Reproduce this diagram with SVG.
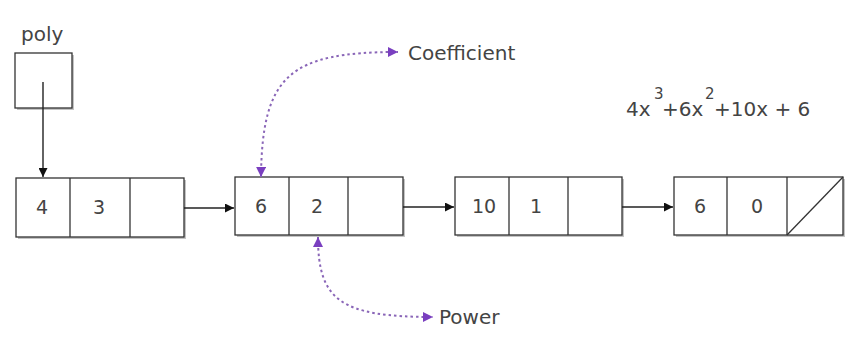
<svg xmlns="http://www.w3.org/2000/svg" width="854" height="338" viewBox="0 0 854 338">
<style>
.box{fill:#fff;stroke:#333;stroke-width:1.3}
.shd{fill:#c4c4c4}
.div{stroke:#333;stroke-width:1.3}
.t{font-family:"DejaVu Sans",Verdana,sans-serif;font-size:19px;fill:#444}
.lbl{font-family:"DejaVu Sans",Verdana,sans-serif;font-size:20px;fill:#444}
.p{font-family:"DejaVu Sans",Verdana,sans-serif;font-size:20px;fill:#444}
.c{text-anchor:middle}
.link{stroke:#222;stroke-width:1.4;fill:none}
.dot{stroke:#8a66b8;stroke-width:2;stroke-dasharray:2.5 3;fill:none}
</style>
<defs>
<marker id="ab" viewBox="0 0 10 10" refX="10" refY="5" markerWidth="9" markerHeight="9" markerUnits="userSpaceOnUse" orient="auto"><path d="M0,0 L10,5 L0,10 z" fill="#111"/></marker>
<marker id="ap" viewBox="0 0 10 10" refX="10" refY="5" markerWidth="10" markerHeight="10" markerUnits="userSpaceOnUse" orient="auto-start-reverse"><path d="M0,0 L10,5 L0,10 z" fill="#7a3fc0"/></marker>
</defs>
<rect width="854" height="338" fill="#fff"/>

<g id="poly">
<text class="lbl" x="21" y="41">poly</text>
<rect class="shd" x="17" y="55" width="57" height="55"/>
<rect class="box" x="15" y="53" width="57" height="55"/>
</g>

<g id="node1">
<rect class="shd" x="18" y="180" width="168" height="59"/>
<rect class="box" x="16" y="178" width="168" height="59"/>
<line class="div" x1="70" y1="178" x2="70" y2="237"/>
<line class="div" x1="130" y1="178" x2="130" y2="237"/>
<text class="t c" x="42" y="214">4</text>
<text class="t c" x="99" y="214">3</text>
</g>

<g id="node2">
<rect class="shd" x="237" y="179" width="168" height="58"/>
<rect class="box" x="235" y="177" width="168" height="58"/>
<line class="div" x1="289" y1="177" x2="289" y2="235"/>
<line class="div" x1="348" y1="177" x2="348" y2="235"/>
<text class="t c" x="261" y="213">6</text>
<text class="t c" x="317" y="213">2</text>
</g>

<g id="node3">
<rect class="shd" x="457" y="179" width="167" height="58"/>
<rect class="box" x="455" y="177" width="167" height="58"/>
<line class="div" x1="509" y1="177" x2="509" y2="235"/>
<line class="div" x1="568" y1="177" x2="568" y2="235"/>
<text class="t c" x="484" y="213">10</text>
<text class="t c" x="536" y="213">1</text>
</g>

<g id="node4">
<rect class="shd" x="676" y="179" width="169" height="58"/>
<rect class="box" x="674" y="177" width="169" height="58"/>
<line class="div" x1="727" y1="177" x2="727" y2="235"/>
<line class="div" x1="787" y1="177" x2="787" y2="235"/>
<line class="div" x1="787" y1="235" x2="843" y2="177"/>
<text class="t c" x="700" y="213">6</text>
<text class="t c" x="757" y="213">0</text>
</g>

<g id="coefficient">
<text class="lbl" x="408" y="60">Coefficient</text>
</g>
<g id="power">
<text class="lbl" x="439" y="324">Power</text>
</g>
<g id="polynomial">
<text class="p"><tspan x="626" y="116">4x</tspan><tspan x="654" y="99" font-size="15">3</tspan><tspan x="662" y="116">+6x</tspan><tspan x="705" y="99" font-size="15">2</tspan><tspan x="714" y="116">+10x + 6</tspan></text>
</g>

<g id="connectors">
<line class="link" x1="43" y1="82" x2="43" y2="177" marker-end="url(#ab)"/>
<line class="link" x1="184" y1="208" x2="234" y2="208" marker-end="url(#ab)"/>
<line class="link" x1="403" y1="207" x2="454" y2="207" marker-end="url(#ab)"/>
<line class="link" x1="622" y1="207" x2="673" y2="207" marker-end="url(#ab)"/>
<path class="dot" d="M261 177 C262 75 290 52 398 52" marker-start="url(#ap)" marker-end="url(#ap)"/>
<path class="dot" d="M318 237 C318 300 340 317 433 317" marker-start="url(#ap)" marker-end="url(#ap)"/>
</g>
</svg>
